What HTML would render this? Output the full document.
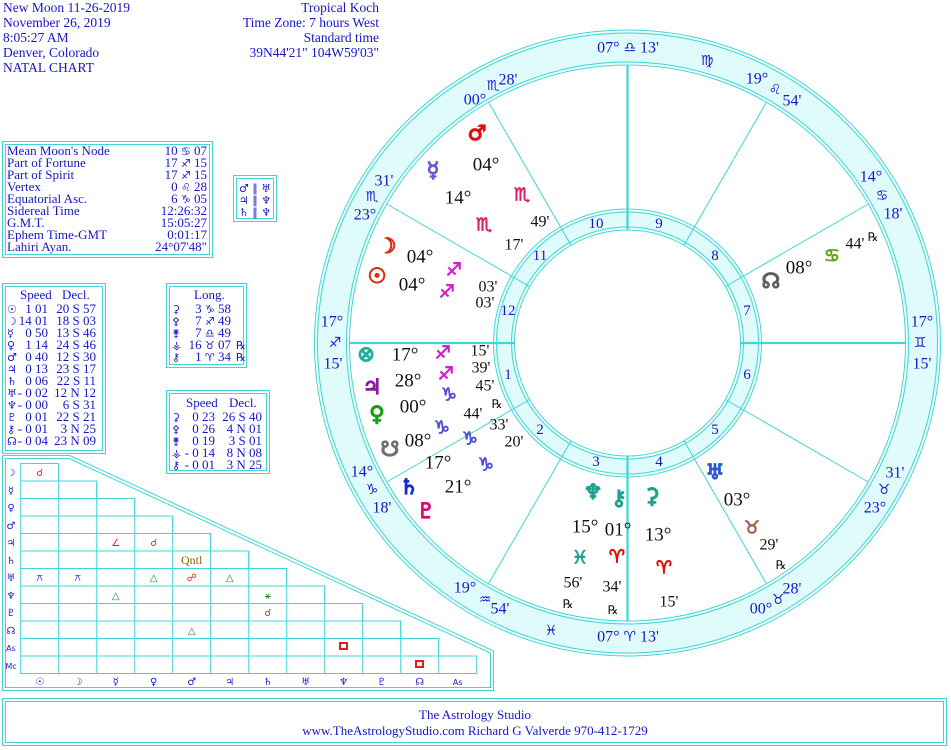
<!DOCTYPE html>
<html><head><meta charset="utf-8"><style>
html,body{margin:0;padding:0;background:#fff;}
svg{display:block;}
.b{fill:#1616c8;font-family:"Liberation Serif",serif;}
.k{fill:#111;font-family:"Liberation Serif",serif;}
.g{font-family:"DejaVu Sans",sans-serif;}
.s{font-family:"DejaVu Sans",sans-serif;font-size:11px;}
</style></head><body>
<svg width="951" height="750" viewBox="0 0 951 750" xmlns="http://www.w3.org/2000/svg">
<g fill="none" stroke="#3fd6d6" stroke-width="1">
<circle cx="627.5" cy="343" r="295.5" stroke="#e0fbfb" stroke-width="32"/>
<circle cx="627.5" cy="343" r="123.5" stroke="#e0fbfb" stroke-width="18"/>
<circle cx="627.5" cy="343" r="313"/><circle cx="627.5" cy="343" r="310"/>
<circle cx="627.5" cy="343" r="281"/><circle cx="627.5" cy="343" r="278"/>
<circle cx="627.5" cy="343" r="134"/><circle cx="627.5" cy="343" r="131"/>
<circle cx="627.5" cy="343" r="116"/><circle cx="627.5" cy="343" r="113"/>
<line x1="725.4" y1="286.5" x2="868.3" y2="204"/>
<line x1="684" y1="245.1" x2="766.5" y2="102.2"/>
<line x1="571" y1="245.1" x2="488.5" y2="102.2"/>
<line x1="529.6" y1="286.5" x2="386.7" y2="204"/>
<line x1="529.6" y1="399.5" x2="386.7" y2="482"/>
<line x1="571" y1="440.9" x2="488.5" y2="583.8"/>
<line x1="684" y1="440.9" x2="766.5" y2="583.8"/>
<line x1="725.4" y1="399.5" x2="868.3" y2="482"/>
<g stroke-width="2.2">
<line x1="349.5" y1="343" x2="514.5" y2="343"/><line x1="740.5" y1="343" x2="905.5" y2="343"/>
<line x1="627.5" y1="65" x2="627.5" y2="230"/><line x1="627.5" y1="456" x2="627.5" y2="621"/>
</g>
<rect x="2.5" y="141.5" width="210" height="116"/><rect x="5.5" y="144.5" width="204" height="110"/>
<rect x="233.5" y="175.5" width="43" height="46"/><rect x="236.5" y="178.5" width="37" height="40"/>
<rect x="2.5" y="283.5" width="103" height="170"/><rect x="5.5" y="286.5" width="97" height="164"/>
<rect x="166.5" y="283.5" width="80" height="84"/><rect x="169.5" y="286.5" width="74" height="78"/>
<rect x="166.5" y="390.5" width="103" height="83"/><rect x="169.5" y="393.5" width="97" height="77"/>
<rect x="2.5" y="698.5" width="944" height="47"/><rect x="5.5" y="701.5" width="938" height="41"/>
<polygon points="2.5,455.5 70,455.5 493.5,651 493.5,690.5 2.5,690.5"/>
<polygon points="5.5,458.5 69,458.5 490.5,653 490.5,687.5 5.5,687.5"/>
<rect x="20.7" y="463.5" width="38" height="17.5"/>
<rect x="20.7" y="481" width="76" height="17.5"/>
<rect x="20.7" y="498.5" width="114" height="17.5"/>
<rect x="20.7" y="516" width="152" height="17.5"/>
<rect x="20.7" y="533.5" width="190" height="17.5"/>
<rect x="20.7" y="551" width="228" height="17.5"/>
<rect x="20.7" y="568.5" width="266" height="17.5"/>
<rect x="20.7" y="586" width="304" height="17.5"/>
<rect x="20.7" y="603.5" width="342" height="17.5"/>
<rect x="20.7" y="621" width="380" height="17.5"/>
<rect x="20.7" y="638.5" width="418" height="17.5"/>
<rect x="20.7" y="656" width="456" height="17.5"/>
<line x1="58.7" y1="463.5" x2="58.7" y2="673.5"/>
<line x1="96.7" y1="481" x2="96.7" y2="673.5"/>
<line x1="134.7" y1="498.5" x2="134.7" y2="673.5"/>
<line x1="172.7" y1="516" x2="172.7" y2="673.5"/>
<line x1="210.7" y1="533.5" x2="210.7" y2="673.5"/>
<line x1="248.7" y1="551" x2="248.7" y2="673.5"/>
<line x1="286.7" y1="568.5" x2="286.7" y2="673.5"/>
<line x1="324.7" y1="586" x2="324.7" y2="673.5"/>
<line x1="362.7" y1="603.5" x2="362.7" y2="673.5"/>
<line x1="400.7" y1="621" x2="400.7" y2="673.5"/>
<line x1="438.7" y1="638.5" x2="438.7" y2="673.5"/>
</g>

<g class="b" font-size="13.5">
<text x="3" y="12">New Moon 11-26-2019</text>
<text x="3" y="27">November 26, 2019</text>
<text x="3" y="42">8:05:27 AM</text>
<text x="3" y="57">Denver, Colorado</text>
<text x="3" y="72">NATAL CHART</text>
<g text-anchor="end">
<text x="379" y="12">Tropical Koch</text>
<text x="379" y="27">Time Zone: 7 hours West</text>
<text x="379" y="42">Standard time</text>
<text x="379" y="57">39N44'21"  104W59'03"</text>
</g>
</g>

<g class="b" font-size="13">
<text x="7" y="155">Mean Moon's Node</text><text x="7" y="167">Part of Fortune</text><text x="7" y="179">Part of Spirit</text>
<text x="7" y="191">Vertex</text><text x="7" y="203">Equatorial Asc.</text><text x="7" y="215">Sidereal Time</text>
<text x="7" y="227">G.M.T.</text><text x="7" y="239">Ephem Time-GMT</text><text x="7" y="251">Lahiri Ayan.</text>
<g text-anchor="end">
<text x="207" y="155">10 <tspan class="s">♋&#xFE0E;</tspan> 07</text><text x="207" y="167">17 <tspan class="s">♐&#xFE0E;</tspan> 15</text><text x="207" y="179">17 <tspan class="s">♐&#xFE0E;</tspan> 15</text>
<text x="207" y="191">0 <tspan class="s">♌&#xFE0E;</tspan> 28</text><text x="207" y="203">6 <tspan class="s">♑&#xFE0E;</tspan> 05</text><text x="207" y="215">12:26:32</text>
<text x="207" y="227">15:05:27</text><text x="207" y="239">0:01:17</text><text x="207" y="251">24°07'48"</text>
</g>
<g class="g" font-size="11" text-anchor="middle">
<text x="255" y="192">♂ ∥ ♅</text><text x="255" y="204">♃ ∥ ♆</text><text x="255" y="216">♄ ∥ ♆</text>
</g>
</g>

<g class="b" font-size="13">
<text x="20" y="299">Speed</text><text x="62" y="299">Decl.</text>
<g class="g" font-size="11">
<text x="7" y="313">☉</text><text x="7" y="325">☽</text><text x="7" y="337">☿</text><text x="7" y="349">♀</text><text x="7" y="361">♂</text><text x="7" y="373">♃</text><text x="7" y="385">♄</text><text x="7" y="397">♅</text><text x="7" y="409">♆</text><text x="7" y="421">♇</text><text x="7" y="433">⚷</text><text x="7" y="445">☊</text>
</g>
<g text-anchor="end">
<text x="48" y="313">1 01</text><text x="48" y="325">14 01</text><text x="48" y="337">0 50</text><text x="48" y="349">1 14</text><text x="48" y="361">0 40</text><text x="48" y="373">0 13</text><text x="48" y="385">0 06</text><text x="48" y="397">- 0 02</text><text x="48" y="409">- 0 00</text><text x="48" y="421">0 01</text><text x="48" y="433">- 0 01</text><text x="48" y="445">- 0 04</text>
<text x="96" y="313">20 S 57</text><text x="96" y="325">18 S 03</text><text x="96" y="337">13 S 46</text><text x="96" y="349">24 S 46</text><text x="96" y="361">12 S 30</text><text x="96" y="373">23 S 17</text><text x="96" y="385">22 S 11</text><text x="96" y="397">12 N 12</text><text x="96" y="409">6 S 31</text><text x="96" y="421">22 S 21</text><text x="96" y="433">3 N 25</text><text x="96" y="445">23 N 09</text>
</g>
<text x="194" y="299">Long.</text>
<g class="g" font-size="11"><text x="172" y="313">⚳</text><text x="172" y="325">⚴</text><text x="172" y="337">⚵</text><text x="172" y="349">⚶</text><text x="172" y="361">⚷</text></g>
<g text-anchor="end"><text x="231" y="313">3 <tspan class="s">♑&#xFE0E;</tspan> 58</text><text x="231" y="325">7 <tspan class="s">♐&#xFE0E;</tspan> 49</text><text x="231" y="337">7 <tspan class="s">♎&#xFE0E;</tspan> 49</text><text x="231" y="349">16 <tspan class="s">♉&#xFE0E;</tspan> 07</text><text x="231" y="361">1 <tspan class="s">♈&#xFE0E;</tspan> 34</text></g>
<text x="236" y="349" font-size="11">℞</text><text x="236" y="361" font-size="11">℞</text>
<text x="186" y="407">Speed</text><text x="229" y="407">Decl.</text>
<g class="g" font-size="11"><text x="172" y="421">⚳</text><text x="172" y="433">⚴</text><text x="172" y="445">⚵</text><text x="172" y="457">⚶</text><text x="172" y="469">⚷</text></g>
<g text-anchor="end">
<text x="215" y="421">0 23</text><text x="215" y="433">0 26</text><text x="215" y="445">0 19</text><text x="215" y="457">- 0 14</text><text x="215" y="469">- 0 01</text>
<text x="262" y="421">26 S 40</text><text x="262" y="433">4 N 01</text><text x="262" y="445">3 S 01</text><text x="262" y="457">8 N 08</text><text x="262" y="469">3 N 25</text>
</g>
</g>

<g class="b g" font-size="10" text-anchor="middle">
<text x="11" y="476">☽</text><text x="11" y="494">☿</text><text x="11" y="511">♀</text><text x="11" y="529">♂</text><text x="11" y="546">♃</text><text x="11" y="564">♄</text><text x="11" y="581">♅</text><text x="11" y="599">♆</text><text x="11" y="616">♇</text><text x="11" y="634">☊</text><text x="11" y="651" font-size="8">As</text><text x="11" y="669" font-size="8">Mc</text>
<text x="39.7" y="685">☉</text><text x="77.7" y="685">☽</text><text x="115.7" y="685">☿</text><text x="153.7" y="685">♀</text><text x="191.7" y="685">♂</text><text x="229.7" y="685">♃</text><text x="267.7" y="685">♄</text><text x="305.7" y="685">♅</text><text x="343.7" y="685">♆</text><text x="381.7" y="685">♇</text><text x="419.7" y="685">☊</text><text x="457.7" y="685" font-size="8">As</text>
</g>
<g class="g" font-size="10" text-anchor="middle">
<text x="39.7" y="476" fill="#e02020">☌</text>
<text x="115.7" y="546" fill="#e02020">∠</text><text x="153.7" y="546" fill="#e02020">☌</text>
<text x="191.7" y="564" fill="#8a6a00" font-family="Liberation Serif" font-size="12">Qntl</text>
<text x="39.7" y="581" fill="#1616c8">⚻</text><text x="77.7" y="581" fill="#1616c8">⚻</text>
<text x="153.7" y="581" fill="#1a8a1a">△</text><text x="191.7" y="581" fill="#e02020">☍</text><text x="229.7" y="581" fill="#1a8a1a">△</text>
<text x="115.7" y="599" fill="#1a8a1a">△</text><text x="267.7" y="599" fill="#1a8a1a">⚹</text>
<text x="267.7" y="616" fill="#e02020">☌</text>
<text x="191.7" y="634" fill="#1a8a1a">△</text>
</g>
<rect x="340" y="643" width="7" height="6" fill="none" stroke="#e02020" stroke-width="2"/>
<rect x="416" y="661" width="7" height="6" fill="none" stroke="#e02020" stroke-width="2"/>

<g class="b" font-size="16" text-anchor="middle" dominant-baseline="central">
<text x="628" y="48">07° <tspan class="g" font-size="14">♎&#xFE0E;</tspan> 13'</text>
<text x="628" y="637">07° <tspan class="g" font-size="14">♈&#xFE0E;</tspan> 13'</text>
<text x="475" y="100">00°</text><text x="493" y="86" class="g" font-size="14">♏&#xFE0E;</text><text x="508" y="80">28'</text>
<text x="384" y="181">31'</text><text x="372" y="197" class="g" font-size="14">♏&#xFE0E;</text><text x="365" y="215">23°</text>
<text x="332" y="322">17°</text><text x="335" y="343" class="g" font-size="14">♐&#xFE0E;</text><text x="333" y="364">15'</text>
<text x="362" y="472">14°</text><text x="372" y="490" class="g" font-size="14">♑&#xFE0E;</text><text x="382" y="508">18'</text>
<text x="465" y="588">19°</text><text x="485" y="600" class="g" font-size="14">♒&#xFE0E;</text><text x="500" y="609">54'</text>
<text x="761" y="609">00°</text><text x="778" y="600" class="g" font-size="14">♉&#xFE0E;</text><text x="792" y="589">28'</text>
<text x="895" y="473">31'</text><text x="884" y="490" class="g" font-size="14">♉&#xFE0E;</text><text x="875" y="508">23°</text>
<text x="922" y="322">17°</text><text x="920" y="343" class="g" font-size="14">♊&#xFE0E;</text><text x="922" y="364">15'</text>
<text x="871" y="177">14°</text><text x="882" y="196" class="g" font-size="14">♋&#xFE0E;</text><text x="893" y="214">18'</text>
<text x="757" y="79">19°</text><text x="775" y="90" class="g" font-size="14">♌&#xFE0E;</text><text x="792" y="101">54'</text>
<text x="707" y="61" class="g" font-size="14">♍&#xFE0E;</text>
<text x="551" y="631" class="g" font-size="14">♓&#xFE0E;</text>
</g>
<g class="b" font-size="15" text-anchor="middle" dominant-baseline="central">
<text x="508" y="375">1</text><text x="540" y="430">2</text><text x="596" y="462">3</text><text x="659" y="462">4</text><text x="715" y="430">5</text><text x="747" y="375">6</text>
<text x="747" y="311">7</text><text x="715" y="256">8</text><text x="659" y="224">9</text><text x="596" y="224">10</text><text x="540" y="256">11</text><text x="508" y="311">12</text>
</g>

<g class="g" font-size="21" text-anchor="middle" dominant-baseline="central" stroke-width="1.2">
<text x="477" y="133" fill="#e01010" stroke="#e01010">♂</text>
<text x="433" y="170" fill="#6a5ad0" stroke="#6a5ad0">☿</text>
<text x="387" y="246" fill="#e02a10" stroke="#e02a10">☽</text>
<text x="377" y="276" fill="#e02a10" stroke="#e02a10">☉</text>
<text x="366" y="354" fill="#20b0a0" stroke="#20b0a0">⊗</text>
<text x="372" y="387" fill="#8a1aa0" stroke="#8a1aa0">♃</text>
<text x="377" y="414" fill="#18a010" stroke="#18a010">♀</text>
<text x="390" y="449" fill="#707070" stroke="#707070">☋</text>
<text x="409" y="487" fill="#1a2ad0" stroke="#1a2ad0">♄</text>
<text x="426" y="511" fill="#d01070" stroke="#d01070">♇</text>
<text x="593" y="492" fill="#20a090" stroke="#20a090">♆</text>
<text x="619" y="498" fill="#20a090" stroke="#20a090">⚷</text>
<text x="652" y="496" fill="#20a090" stroke="#20a090">⚳</text>
<text x="715" y="472" fill="#2a5ad0" stroke="#2a5ad0">♅</text>
<text x="771" y="281" fill="#606060" stroke="#606060">☊</text>
</g>
<g class="g" font-size="18" text-anchor="middle" dominant-baseline="central" stroke-width="0.8">
<text x="522" y="195" fill="#e0206a" stroke="#e0206a">♏&#xFE0E;</text><text x="484" y="225" fill="#e0206a" stroke="#e0206a">♏&#xFE0E;</text>
<text x="454" y="270" fill="#d020d0" stroke="#d020d0">♐&#xFE0E;</text><text x="447" y="292" fill="#d020d0" stroke="#d020d0">♐&#xFE0E;</text>
<text x="443" y="353" fill="#d020d0" stroke="#d020d0">♐&#xFE0E;</text><text x="446" y="374" fill="#d020d0" stroke="#d020d0">♐&#xFE0E;</text>
<text x="449" y="395" fill="#5050d0" stroke="#5050d0">♑&#xFE0E;</text><text x="442" y="428" fill="#5050d0" stroke="#5050d0">♑&#xFE0E;</text>
<text x="470" y="439" fill="#5050d0" stroke="#5050d0">♑&#xFE0E;</text><text x="486" y="465" fill="#5050d0" stroke="#5050d0">♑&#xFE0E;</text>
<text x="580" y="558" fill="#20a090" stroke="#20a090">♓&#xFE0E;</text><text x="617" y="557" fill="#e01010" stroke="#e01010">♈&#xFE0E;</text><text x="664" y="568" fill="#e01010" stroke="#e01010">♈&#xFE0E;</text>
<text x="752" y="528" fill="#a06050" stroke="#a06050">♉&#xFE0E;</text><text x="832" y="256" fill="#60a010" stroke="#60a010">♋&#xFE0E;</text>
</g>
<g class="k" font-size="19" text-anchor="middle" dominant-baseline="central">
<text x="486" y="165">04°</text><text x="458" y="198">14°</text><text x="420" y="257">04°</text><text x="412" y="285">04°</text>
<text x="405" y="355">17°</text><text x="408" y="381">28°</text><text x="413" y="407">00°</text><text x="418" y="441">08°</text>
<text x="438" y="463">17°</text><text x="458" y="487">21°</text>
<text x="585" y="527">15°</text><text x="618" y="530">01°</text><text x="658" y="535">13°</text><text x="737" y="500">03°</text><text x="799" y="268">08°</text>
</g>
<g class="k" font-size="16" text-anchor="middle" dominant-baseline="central">
<text x="540" y="222">49'</text><text x="514" y="245">17'</text><text x="488" y="287">03'</text><text x="485" y="303">03'</text>
<text x="480" y="351">15'</text><text x="481" y="368">39'</text><text x="485" y="386">45'</text><text x="473" y="414">44'</text>
<text x="499" y="425">33'</text><text x="514" y="442">20'</text>
<text x="573" y="583">56'</text><text x="612" y="587">34'</text><text x="669" y="602">15'</text><text x="769" y="545">29'</text><text x="855" y="244">44'</text>
</g>
<g class="k" font-size="12" text-anchor="middle" dominant-baseline="central">
<text x="497" y="404">℞</text><text x="568" y="604">℞</text><text x="613" y="610">℞</text><text x="781" y="565">℞</text><text x="873" y="237">℞</text>
</g>

<g class="b" font-size="13" text-anchor="middle">
<text x="475" y="719">The Astrology Studio</text>
<text x="475" y="735">www.TheAstrologyStudio.com   Richard G Valverde   970-412-1729</text>
</g>
</svg>
</body></html>
